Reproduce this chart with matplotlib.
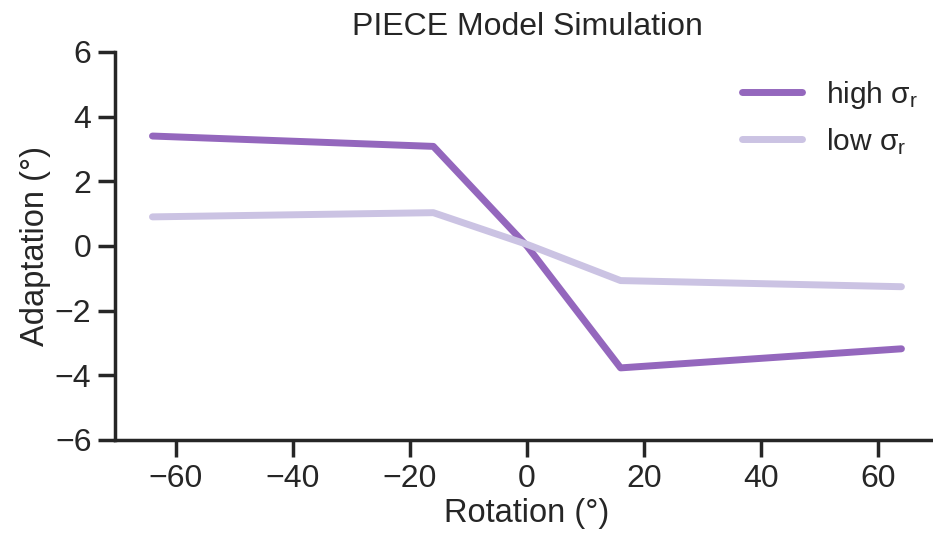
import numpy as np
import matplotlib.pyplot as plt
import seaborn as sns

# rotation sizes (deg) and simulated adaptation for the two noise levels
rotation = [-64, -16, 0, 16, 64]
adapt_high = [3.40, 3.08, 0.0, -3.77, -3.18]
adapt_low = [0.90, 1.03, 0.05, -1.07, -1.26]

sns.set_theme(style='ticks', context='talk')
plt.rcParams['font.family'] = ['Liberation Sans', 'DejaVu Sans']
plt.rcParams['mathtext.fontset'] = 'custom'
plt.rcParams['mathtext.rm'] = 'Liberation Sans'
plt.rcParams['mathtext.it'] = 'Liberation Sans'
plt.rcParams['mathtext.default'] = 'regular'

fig = plt.figure(figsize=(9.33, 5.33), dpi=100)
ax = fig.add_axes([0.1233, 0.1745, 0.883, 0.728])

ax.plot(rotation, adapt_high, color='#9467bd', lw=5, solid_capstyle='round',
        label='high $σ_r$')
ax.plot(rotation, adapt_low, color='#cbc3e3', lw=5, solid_capstyle='round',
        label='low $σ_r$')

ax.set_xlim(-70.4, 70.4)
ax.set_ylim(-6, 6)
ax.set_xticks([-60, -40, -20, 0, 20, 40, 60])
ax.set_yticks([-6, -4, -2, 0, 2, 4, 6])
ax.tick_params(labelsize=23, length=12, width=2.5, pad=5)
for s in ['left', 'bottom']:
    ax.spines[s].set_linewidth(2.5)
sns.despine(ax=ax)

ax.set_xlabel('Rotation (°)', fontsize=23.5, labelpad=3)
ax.set_ylabel('Adaptation (°)', fontsize=23.5, labelpad=3)
ax.set_title('PIECE Model Simulation', fontsize=23, pad=12)
ax.legend(frameon=False, fontsize=21.5, loc='upper right', handlelength=2.0,
          bbox_to_anchor=(1.007, 1.0))

fig.savefig('out.png', dpi=100)
